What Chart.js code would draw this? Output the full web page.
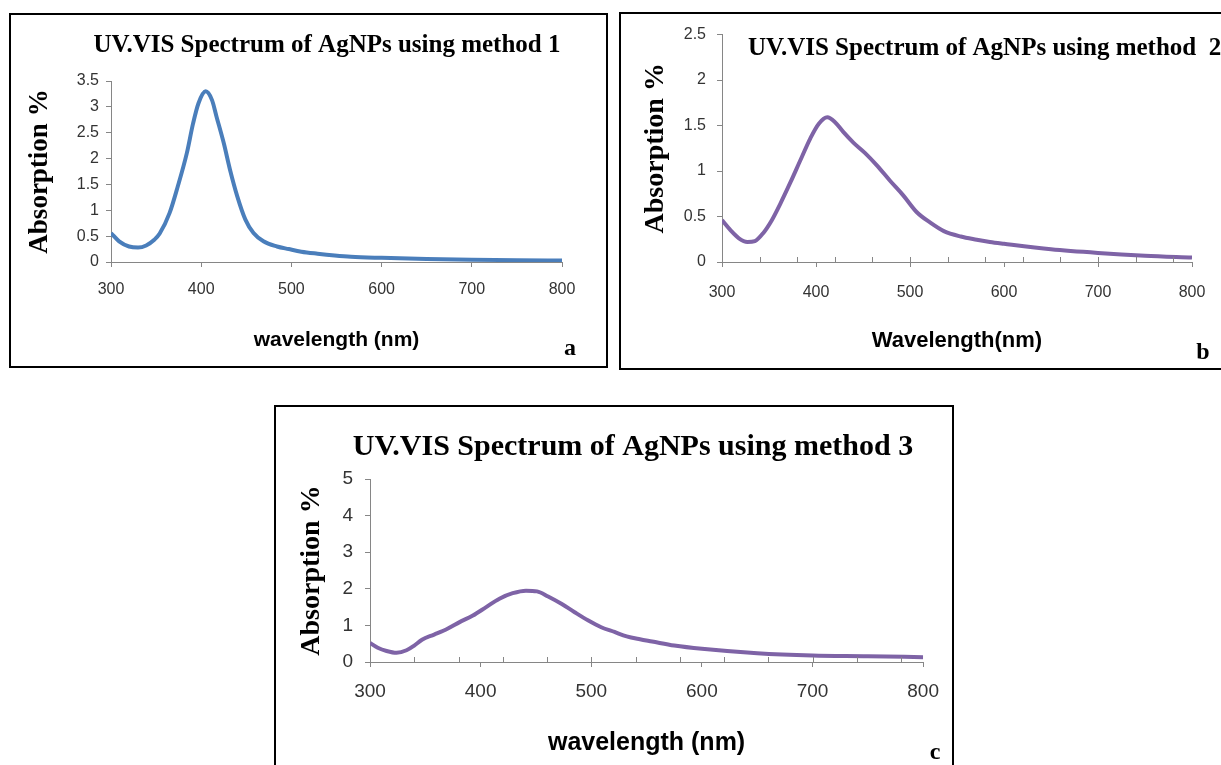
<!DOCTYPE html>
<html>
<head>
<meta charset="utf-8">
<script src="https://cdn.jsdelivr.net/npm/chart.js@4.4.1/dist/chart.umd.min.js"></script>
<style>
    body { margin: 0; background: #fff; width: 1221px; height: 765px; overflow: hidden; position: relative; }
    .panel { position: absolute; border: 2px solid #000; background: #fff; }
    .panel canvas { display: block; }
    #boxA { left: 9px; top: 13px; width: 595px; height: 351px; }
    #boxB { left: 619px; top: 12px; width: 603px; height: 354px; }
    #boxC { left: 274px; top: 405px; width: 676px; height: 361px; }
</style>
</head>
<body>
<div class="panel" id="boxA"><canvas id="chartA" width="595" height="351"></canvas></div>
<div class="panel" id="boxB"><canvas id="chartB" width="603" height="354"></canvas></div>
<div class="panel" id="boxC"><canvas id="chartC" width="676" height="361"></canvas></div>
<script>
// method 1
const wavelengthA = [300, 309, 320, 330, 339, 348, 354, 365, 374, 384, 391, 397, 405, 412, 417, 425, 432, 440, 449, 458, 469, 484, 497, 511, 529, 548, 566, 600, 650, 700, 750, 800];
const absorptionA = [0.56, 0.40, 0.30, 0.28, 0.32, 0.43, 0.55, 0.95, 1.46, 2.10, 2.68, 3.07, 3.30, 3.13, 2.81, 2.30, 1.78, 1.27, 0.82, 0.56, 0.40, 0.30, 0.25, 0.20, 0.16, 0.125, 0.10, 0.08, 0.06, 0.045, 0.035, 0.03];

// method 2
const wavelengthB = [300, 309, 318, 327, 335, 344, 353, 362, 373, 383, 394, 403, 412, 420, 429, 440, 452, 465, 479, 493, 507, 522, 536, 554, 571, 585, 600, 650, 700, 750, 800];
const absorptionB = [0.46, 0.35, 0.26, 0.22, 0.23, 0.32, 0.46, 0.64, 0.88, 1.11, 1.36, 1.52, 1.59, 1.54, 1.43, 1.31, 1.20, 1.06, 0.89, 0.73, 0.55, 0.43, 0.34, 0.28, 0.245, 0.22, 0.20, 0.14, 0.10, 0.07, 0.05];

// method 3
const wavelengthC = [300, 307, 315, 324, 333, 340, 347, 358, 370, 381, 393, 405, 417, 429, 441, 451, 461, 473, 485, 497, 509, 521, 532, 544, 555, 575, 600, 650, 700, 750, 800];
const absorptionC = [0.52, 0.39, 0.30, 0.25, 0.32, 0.45, 0.61, 0.75, 0.91, 1.09, 1.27, 1.50, 1.73, 1.88, 1.95, 1.93, 1.79, 1.59, 1.36, 1.14, 0.95, 0.82, 0.70, 0.62, 0.56, 0.45, 0.36, 0.24, 0.18, 0.16, 0.13];

const xTicks = [300, 400, 500, 600, 700, 800];
const minorTicks = [340, 380, 420, 460, 500, 540, 580, 620, 660, 700, 740, 780];

const axisColor = "#868686";
const tickColor = "#333";

// titles, panel letters and the small inner tick marks
const panelText = {
    id: "panelText",
    afterDraw(chart, args, opts) {
        const ctx = chart.ctx;
        ctx.save();
        ctx.fillStyle = "#000";
        ctx.textBaseline = "middle";
        ctx.font = "bold " + opts.titleSize + "px 'Liberation Serif'";
        ctx.textAlign = opts.titleAlign;
        ctx.fillText(opts.title, opts.titleX, opts.titleY);
        ctx.font = "bold 24px 'Liberation Serif'";
        ctx.textAlign = "center";
        ctx.fillText(opts.letter, opts.letterX, opts.letterY);
        if (opts.minor) {
            const xs = chart.scales.x;
            ctx.strokeStyle = axisColor;
            ctx.lineWidth = 1;
            opts.minor.forEach(function (v) {
                const px = Math.round(xs.getPixelForValue(v)) + 0.5;
                ctx.beginPath();
                ctx.moveTo(px, xs.top);
                ctx.lineTo(px, xs.top - 5);
                ctx.stroke();
            });
        }
        ctx.restore();
    }
};

function makeChart(id, xs, ys, s) {
    const points = xs.map(function (x, i) { return { x: x, y: ys[i] }; });
    return new Chart(document.getElementById(id), {
        type: "line",
        data: {
            datasets: [{
                data: points,
                borderColor: s.color,
                borderWidth: 4,
                pointRadius: 0,
                cubicInterpolationMode: "monotone",
                tension: 0.4
            }]
        },
        options: {
            responsive: false,
            animation: false,
            layout: { padding: { left: 0, top: s.padTop, right: s.padRight, bottom: 0 } },
            plugins: {
                legend: { display: false },
                tooltip: { enabled: false },
                panelText: s.text
            },
            scales: {
                x: {
                    type: "linear",
                    min: 300,
                    max: 800,
                    afterBuildTicks: function (axis) {
                        axis.ticks = xTicks.map(function (v) { return { value: v }; });
                    },
                    afterFit: function (scale) { scale.height = s.xHeight; },
                    border: { color: axisColor, width: 1 },
                    grid: { drawOnChartArea: false, color: axisColor, tickLength: 5 },
                    ticks: {
                        color: tickColor,
                        padding: s.xPad,
                        maxRotation: 0,
                        font: { family: "'Liberation Sans'", size: s.tickSize }
                    },
                    title: {
                        display: true,
                        text: s.xTitle,
                        color: "#000",
                        padding: { top: 0, bottom: s.xTitlePad },
                        font: { family: "'Liberation Sans'", size: s.xTitleSize, weight: "bold" }
                    }
                },
                y: {
                    min: 0,
                    max: s.yMax,
                    ticks: {
                        stepSize: s.yStep,
                        color: tickColor,
                        padding: s.yPad,
                        font: { family: "'Liberation Sans'", size: s.tickSize },
                        callback: function (v) { return String(v); }
                    },
                    afterFit: function (scale) { scale.width = s.yWidth; },
                    border: { color: axisColor, width: 1 },
                    grid: { drawOnChartArea: false, color: axisColor, tickLength: 5 },
                    title: {
                        display: true,
                        text: "Absorption %",
                        color: "#000",
                        padding: { top: s.yTitlePad, bottom: 0 },
                        font: { family: "'Liberation Serif'", size: s.yTitleSize, weight: "bold" }
                    }
                }
            }
        },
        plugins: [panelText]
    });
}

document.addEventListener("DOMContentLoaded", function () {
    makeChart("chartA", wavelengthA, absorptionA, {
        color: "#4a7ebb", yMax: 3.5, yStep: 0.5,
        padTop: 66, padRight: 44, xHeight: 104, yWidth: 100,
        tickSize: 16, xPad: 13, yPad: 7,
        xTitle: "wavelength (nm)", xTitleSize: 21, xTitlePad: 13,
        yTitleSize: 27, yTitlePad: 13,
        text: {
            title: "UV.VIS Spectrum of AgNPs using method 1", titleSize: 25,
            titleAlign: "center", titleX: 316, titleY: 31,
            letter: "a", letterX: 559, letterY: 334
        }
    });

    makeChart("chartB", wavelengthB, absorptionB, {
        color: "#7e63a6", yMax: 2.5, yStep: 0.5,
        padTop: 18, padRight: 32, xHeight: 106, yWidth: 101,
        tickSize: 16, xPad: 16, yPad: 11,
        xTitle: "Wavelength(nm)", xTitleSize: 22, xTitlePad: 14,
        yTitleSize: 28, yTitlePad: 18,
        text: {
            title: "UV.VIS Spectrum of AgNPs using method  2", titleSize: 25,
            titleAlign: "left", titleX: 127, titleY: 35,
            letter: "b", letterX: 582, letterY: 339,
            minor: minorTicks
        }
    });

    makeChart("chartC", wavelengthC, absorptionC, {
        color: "#7e63a6", yMax: 5, yStep: 1,
        padTop: 72, padRight: 19, xHeight: 106, yWidth: 94,
        tickSize: 19, xPad: 13, yPad: 12,
        xTitle: "wavelength (nm)", xTitleSize: 25, xTitlePad: 10,
        yTitleSize: 28, yTitlePad: 19,
        text: {
            title: "UV.VIS Spectrum of AgNPs using method 3", titleSize: 30,
            titleAlign: "center", titleX: 357, titleY: 40,
            letter: "c", letterX: 659, letterY: 346,
            minor: minorTicks
        }
    });
});
</script>
</body>
</html>
